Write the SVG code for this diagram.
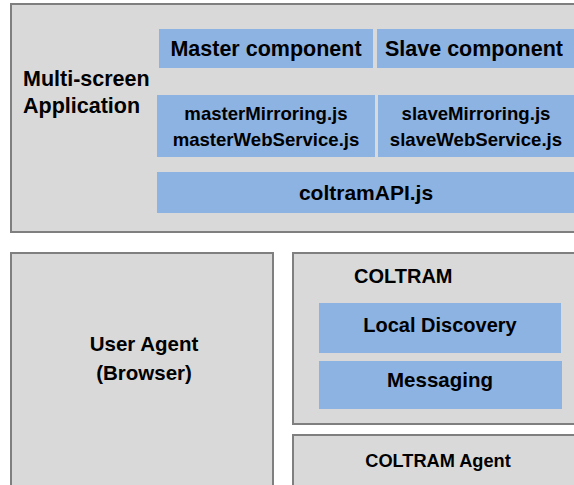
<svg xmlns="http://www.w3.org/2000/svg" width="574" height="485" viewBox="0 0 574 485">
<style>
.outer{fill:#d9d9d9;stroke:#7f7f7f;stroke-width:2}
.blue{fill:#8db3e2;stroke:none}
text{font-family:"Liberation Sans",Arial,sans-serif;font-weight:bold;fill:#000}
.c{text-anchor:middle}
</style>
<rect width="574" height="485" fill="#ffffff"/>
<g id="app">
<rect class="outer" x="11" y="4" width="580" height="228"/>
<text x="23" y="86" font-size="21.5">Multi-screen</text>
<text x="23" y="113" font-size="21.5">Application</text>
</g>
<g id="master-component">
<rect class="blue" x="159" y="29" width="214" height="39"/>
<text class="c" x="266" y="56" font-size="21.5">Master component</text>
</g>
<g id="slave-component">
<rect class="blue" x="377" y="29" width="200" height="39"/>
<text class="c" x="474" y="56" font-size="21.5">Slave component</text>
</g>
<g id="master-js">
<rect class="blue" x="157" y="95" width="218" height="62"/>
<text class="c" x="266" y="120" font-size="18.6">masterMirroring.js</text>
<text class="c" x="266" y="146" font-size="18.6">masterWebService.js</text>
</g>
<g id="slave-js">
<rect class="blue" x="378" y="95" width="199" height="62"/>
<text class="c" x="476" y="120" font-size="18.6">slaveMirroring.js</text>
<text class="c" x="476" y="146" font-size="18.6">slaveWebService.js</text>
</g>
<g id="coltram-api">
<rect class="blue" x="157" y="172" width="420" height="41"/>
<text class="c" x="366" y="200" font-size="21">coltramAPI.js</text>
</g>
<g id="user-agent">
<rect class="outer" x="11" y="253" width="262" height="240"/>
<text class="c" x="144" y="351" font-size="20.5">User Agent</text>
<text class="c" x="144" y="380" font-size="20.5">(Browser)</text>
</g>
<g id="coltram">
<rect class="outer" x="293" y="253" width="290" height="171"/>
<text x="354" y="283" font-size="20">COLTRAM</text>
</g>
<g id="local-discovery">
<rect class="blue" x="319" y="303" width="242" height="50"/>
<text class="c" x="440" y="332" font-size="20">Local Discovery</text>
</g>
<g id="messaging">
<rect class="blue" x="319" y="361" width="243" height="48"/>
<text class="c" x="440" y="387" font-size="20.5">Messaging</text>
</g>
<g id="coltram-agent">
<rect class="outer" x="293" y="435" width="290" height="60"/>
<text class="c" x="438" y="467" font-size="18.2">COLTRAM Agent</text>
</g>
<g id="connectors"></g>
</svg>
